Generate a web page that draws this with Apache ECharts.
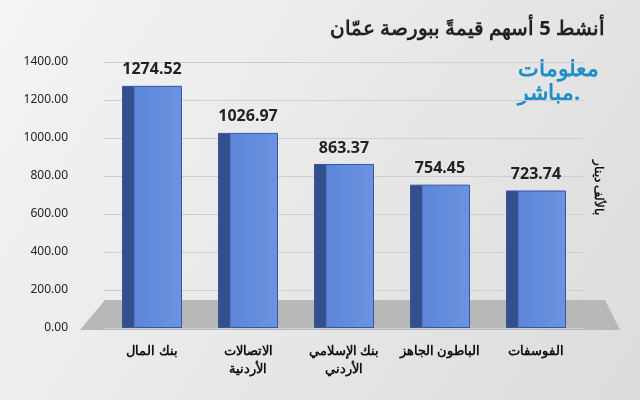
<!DOCTYPE html>
<html><head><meta charset="utf-8">
<script src="https://cdn.jsdelivr.net/npm/echarts@6/dist/echarts.min.js"></script>
<style>html,body{margin:0;padding:0}#c{width:640px;height:400px}</style>
</head><body><div id="c"></div>
<script>
const categories = ["بنك المال", "الاتصالات\nالأردنية", "بنك الإسلامي\nالأردني", "الباطون الجاهز", "الفوسفات"];
const values = [1274.52, 1026.97, 863.37, 754.45, 723.74];
const chart = echarts.init(document.getElementById('c'));
chart.setOption({
  backgroundColor: {type:'linear',x:0,y:0,x2:1,y2:1,colorStops:[{offset:0,color:'#f4f4f4'},{offset:1,color:'#dcdcdc'}]},
  title: {text: 'أنشط 5 أسهم قيمةً ببورصة عمّان', right: 30, top: 14,
    textStyle: {fontSize: 20, fontWeight: 'bold', color: '#222', fontFamily: 'Noto Sans'}},
  graphic: [
    {type:'polygon', z:0, shape:{points:[[105,300],[605,300],[620,330],[80,330]]}, style:{fill:'#b8b8b8'}},
    {type:'text', left: 518, top: 58, style:{text:'معلومات\nمباشر.', fill:'#1f8fc8', font:'bold 22px "Noto Sans"', lineHeight:24, align:'center'}},
    {type:'text', left: 592, top: 160, rotation: -Math.PI/2, style:{text:'بالألف دينار', fill:'#111', font:'bold 12px "Noto Sans"'}}
  ],
  grid: {left: 104, right: 56, top: 62, bottom: 72},
  xAxis: {type:'category', data: categories, axisLine:{show:false}, axisTick:{show:false},
    axisLabel:{interval:0, fontSize:13, fontWeight:'bold', color:'#111', margin:14, lineHeight:18, fontFamily:'Noto Sans'}},
  yAxis: {type:'value', min:0, max:1400, interval:200,
    axisLabel:{margin:36, formatter: v => v.toFixed(2), fontSize:12, color:'#222', fontFamily:'Noto Sans'},
    splitLine:{lineStyle:{color:'#cfcfcf'}}},
  series: [{type:'bar', data: values, barWidth: 60,
    itemStyle:{borderColor:'#3355aa', borderWidth:1,
      color:{type:'linear',x:0,y:0,x2:1,y2:0,colorStops:[{offset:0,color:'#34508a'},{offset:0.2,color:'#34508a'},{offset:0.21,color:'#5b86d8'},{offset:1,color:'#6b93e0'}]}},
    label:{show:true, position:'top', distance:8, formatter: p => p.value.toFixed(2),
      fontSize:16, fontWeight:'bold', color:'#222', fontFamily:'Noto Sans'}}]
});
</script></body></html>
